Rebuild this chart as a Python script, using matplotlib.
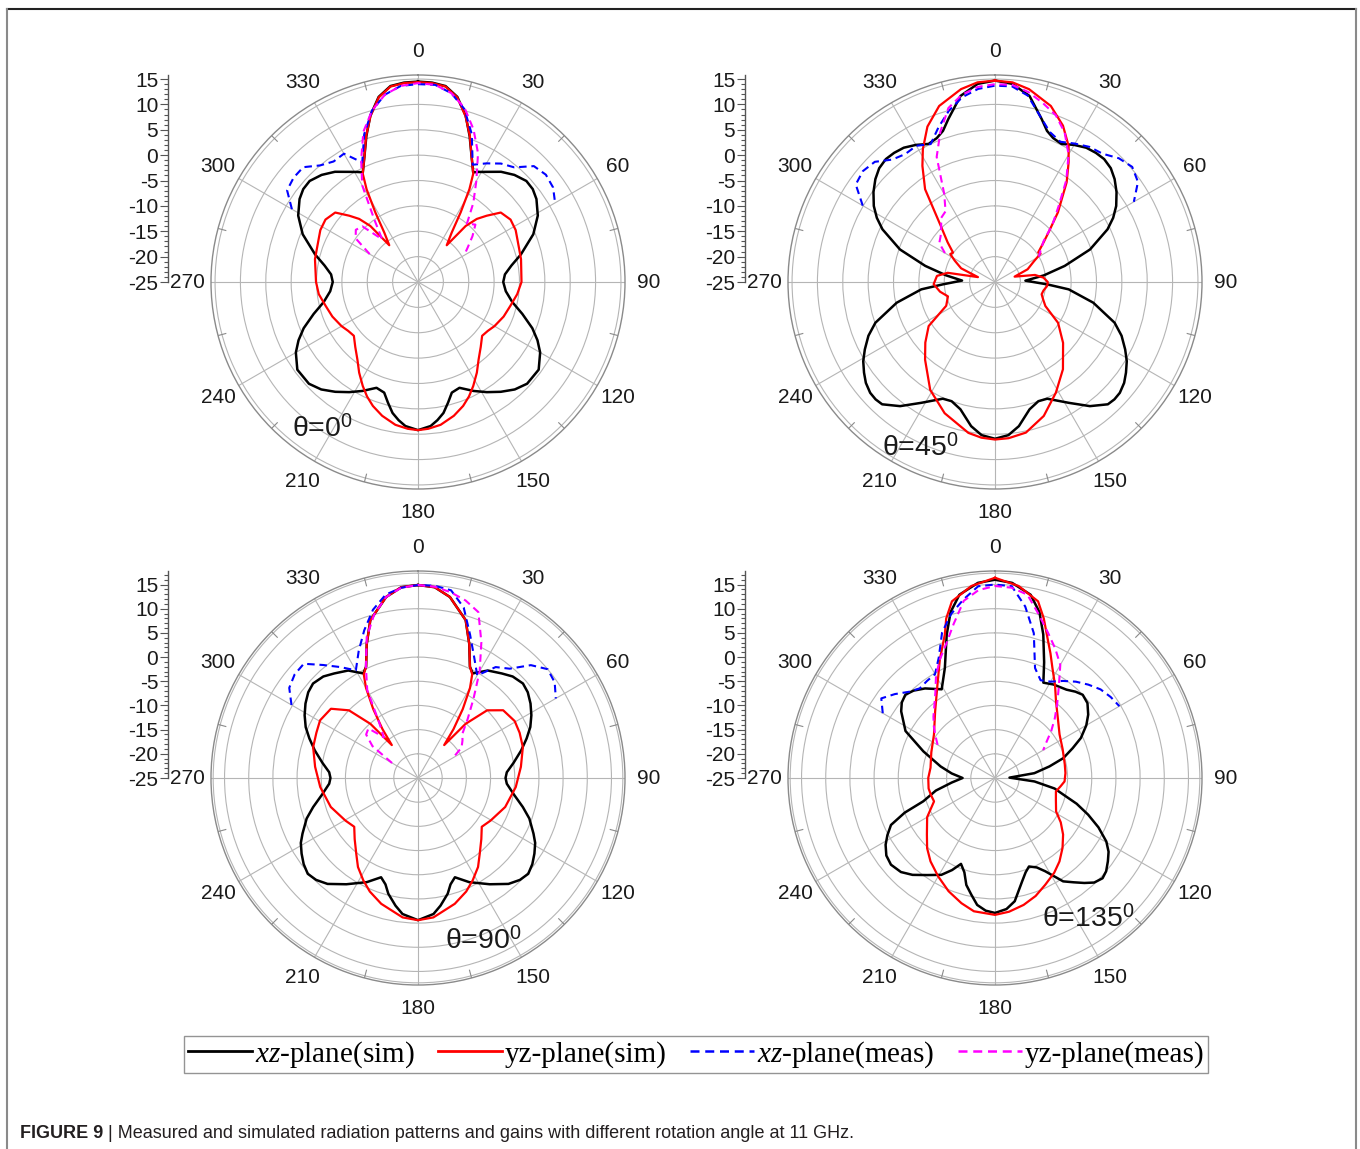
# -*- coding: utf-8 -*-
"""Radiation patterns at 11 GHz, four rotation angles (polar, Origin-like style)."""
import numpy as np
import matplotlib
matplotlib.use("Agg")
import matplotlib.pyplot as plt
from matplotlib.lines import Line2D
from matplotlib.ticker import MultipleLocator

plt.rcParams.update({
    "font.family": "Liberation Sans",
    "mathtext.fontset": "custom",
    "mathtext.rm": "Liberation Serif",
    "mathtext.it": "Liberation Serif:italic",
    "axes.linewidth": 1.0,
    "axes.unicode_minus": False,
})

# ------------------------------------------------------------------ data
# simulated curves: angle (deg, clockwise from top) / gain (dB)
tl_xz_ang = [0, 4, 8, 12, 16, 19.5, 23, 26.7, 29, 32, 37, 42, 47, 51, 55, 61, 67.5, 75, 80, 85, 90,
             96, 102, 107, 112, 116, 120, 126, 133, 138, 143, 148, 153, 158.6, 163, 166, 169, 172, 175,
             180, 185, 188, 191, 194, 197, 201.4, 207, 212, 217, 222, 227, 234, 240, 244, 248, 253, 258,
             264, 270, 275, 280, 285, 292.5, 299, 305, 309, 313, 318, 323, 328, 331, 333.3, 337, 340.5,
             344, 348, 352, 356, 360]
tl_xz_db = [14.5, 14.4, 14.0, 12.3, 9.1, 5.5, 2.0, -0.8, -0.2, 0.6, 2.2, 3.4, 4.2, 4.1, 3.5, 2.0, -0.4,
            -4.0, -6.3, -7.8, -8.2, -7.6, -6.0, -3.5, -0.7, 1.2, 2.8, 4.4, 4.4, 3.5, 2.1, 0.6, -0.9, -2.6,
            -2.2, -0.5, 1.3, 2.5, 3.5, 4.2, 3.5, 2.5, 1.3, -0.5, -2.2, -2.6, -0.9, 0.6, 2.1, 3.5, 4.4, 4.4,
            2.8, 1.2, -0.7, -3.5, -6.0, -7.6, -8.2, -7.8, -6.3, -4.0, -0.4, 2.0, 3.5, 4.1, 4.2, 3.4, 2.2,
            0.6, -0.2, -0.8, 2.0, 5.5, 9.1, 12.3, 14.0, 14.4, 14.5]

tl_yz_ang = [0, 4, 8, 12, 16, 19.5, 23, 27, 29, 31.5, 34.3, 38, 40.4, 43, 46, 50, 56, 62, 67, 77.5, 90,
             97, 104.5, 112, 120, 125, 130, 136, 142, 147, 152, 156, 160, 165, 171, 176, 180,
             184, 189, 195, 200, 204, 208, 213, 218, 224, 230, 235, 240, 248, 255.5, 263, 270, 282.5,
             293, 298, 304, 310, 314, 317, 319.6, 322, 325.7, 328.5, 331, 333, 337, 340.5, 344, 348,
             352, 356, 360]
tl_yz_db = [14.4, 14.3, 13.9, 12.2, 9.0, 5.6, 2.0, -1.0, -4.1, -8.9, -13.2, -15.8, -10.5, -8.0, -6.2,
            -3.7, -3.0, -3.2, -3.7, -4.2, -4.6, -5.3, -6.2, -6.8, -7.6, -8.2, -8.5, -7.2, -5.6, -3.7, -1.8,
            -0.3, 1.0, 2.3, 3.5, 4.0, 4.2, 4.0, 3.5, 2.3, 1.0, -0.3, -1.8, -3.7, -5.6, -7.2, -8.5, -8.2,
            -7.6, -6.8, -6.2, -5.3, -4.9, -4.2, -3.7, -3.2, -3.0, -3.7, -6.2, -8.0, -10.5, -15.8, -13.2,
            -8.9, -4.1, -1.0, 2.0, 5.6, 9.0, 12.2, 13.9, 14.3, 14.4]

tr_xz_ang = [0, 5, 10.5, 16, 19, 22, 25.7, 30, 34.2, 38, 41.6, 45.5, 49.3, 53.5, 57.9, 61.5, 64.9, 71.1,
             77, 82.3, 87.5, 92.6, 95.7, 101.9, 108.8, 113, 117.4, 121, 124.7, 128, 131.6, 134.5, 137.3,
             142.6, 148.6, 155.9, 160, 164.8, 170.6, 175, 180,
             185, 189.4, 195.2, 200, 204.1, 211.4, 217.4, 222.7, 225.5, 228.4, 232, 235.3, 239, 242.6, 247,
             251.2, 258.1, 264.3, 267.4, 272.5, 277.7, 283, 288.9, 295.1, 298.5, 302.1, 306.5, 310.7,
             314.5, 318.4, 322, 325.8, 330, 334.3, 338, 341, 344, 349.5, 355, 360]
tr_xz_db = [14.7, 14.2, 12.3, 8.4, 6.5, 5.6, 5.2, 6.2, 7.0, 7.3, 7.4, 7.0, 6.1, 4.8, 3.2, 1.5, -0.5,
            -5.2, -10.9, -15.3, -19.0, -14.7, -10.4, -5.2, -0.1, 2.1, 3.9, 5.3, 6.4, 7.3, 7.9, 8.0, 7.8,
            5.8, 2.9, 0.2, 0.0, 1.0, 3.8, 5.3, 5.9,
            5.3, 3.8, 1.0, 0.0, 0.2, 2.9, 5.8, 7.8, 8.0, 7.9, 7.3, 6.4, 5.3, 3.9, 2.1,
            -0.1, -5.2, -10.4, -14.7, -18.5, -15.3, -10.9, -5.2, -0.5, 1.5, 3.2, 4.8, 6.1,
            7.0, 7.4, 7.3, 7.0, 6.2, 5.2, 5.6, 6.5, 8.4, 12.3, 14.2, 14.7]

tr_yz_ang = [0, 5, 10, 17.6, 23.5, 28.4, 31.6, 35.7, 42.1, 47, 50.9, 55.7, 58, 62, 68.7, 74.7, 80, 84.9,
             90, 94.4, 100, 104.7, 110, 115.5, 122.9, 131.8, 142.1, 151.2, 160, 168.4, 175, 180,
             185, 190, 201, 211, 222, 229, 236.4, 244, 253, 260, 268, 276, 281, 286, 292, 298, 302, 305,
             310, 316, 323, 328, 331.5, 336.5, 342.4, 350, 355, 360]
tr_yz_db = [14.7, 14.5, 13.6, 11.4, 8.6, 5.5, 2.7, -0.8, -6.5, -10.5, -12.7, -14.7, -14.4, -16.3, -18.1,
            -21.0, -17.0, -15.4, -14.6, -14.7, -15.3, -15.5, -14.9, -14.0, -10.2, -7.0, -3.2, -0.1, 3.1,
            5.3, 5.9, 6.05, 5.8, 5.2, 2.7, -0.2, -4.4, -6.8, -9.3, -14.3, -15.3, -14.0, -12.9, -13.5,
            -15.5, -21.5, -17.8, -16.0, -14.6, -14.9, -12.8, -9.6, -2.1, 2.0, 4.8, 8.4, 11.4, 13.6, 14.5,
            14.7]

bl_xz_ang = [0, 5, 10, 16.8, 20.9, 25, 27.6, 33, 38.7, 43, 48, 52, 56.5, 61, 65.6, 70, 75, 81, 86.3, 90,
             93.7, 100, 105.5, 110, 115.7, 119, 123, 127, 131, 135, 139.5, 146, 153.8, 159.6, 163, 165.6,
             170, 173.5, 180,
             186.5, 190, 194.4, 197, 200.4, 206.2, 214, 220.5, 225, 229, 233, 237, 241, 244.3, 250, 254.5,
             260, 266.3, 270, 273.7, 279, 285, 290, 294.4, 299, 303.5, 308, 312, 317, 321.3, 327, 332.4,
             335, 339.1, 343.2, 350, 355, 360]
bl_xz_db = [14.9, 14.6, 13.0, 9.1, 4.7, 0.4, -0.6, 1.5, 2.7, 3.7, 4.2, 3.8, 2.9, 1.8, 0.5, -1.1, -2.9,
            -5.0, -6.6, -6.9, -6.6, -4.8, -2.5, -0.5, 1.5, 2.7, 3.7, 4.6, 5.2, 4.8, 3.8, 1.5, -1.0, -3.1,
            -2.0, -0.3, 1.8, 3.3, 4.4,
            3.3, 1.8, -0.3, -2.0, -3.1, -1.0, 1.5, 3.8, 4.8, 5.2, 4.6, 3.7, 2.7, 1.5, -0.5, -2.5,
            -4.8, -6.6, -6.9, -6.6, -5.0, -2.9, -1.1, 0.5, 1.8, 2.9, 3.8, 4.2, 3.7, 2.7, 1.5, -0.6,
            0.4, 4.7, 9.1, 13.0, 14.6, 14.9]

bl_yz_ang = [0, 5, 10, 16.8, 20.9, 25, 27.6, 30, 33, 36, 38.5, 41.3, 45.6, 51.5, 59.5, 66, 73.6, 83.8,
             95.3, 108.4, 120.4, 127.4, 134, 140.8, 146, 151.9, 157, 163.7, 173.7, 180,
             186.3, 196.3, 203, 208.1, 214, 219.2, 226, 232.6, 239.6, 251.6, 264.7, 276.2, 286.4, 294,
             300.5, 308.5, 314.4, 318.7, 321.5, 324, 327, 330, 332.4, 335, 339.1, 343.2, 350, 355, 360]
bl_yz_db = [14.9, 14.6, 13.0, 9.1, 4.7, 0.4, -0.8, -3.5, -8.0, -12.5, -16.3, -10.1, -5.0, -2.5, -1.8,
            -2.0, -2.4, -3.6, -4.7, -6.0, -7.6, -8.4, -6.8, -4.8, -2.8, -1.0, 0.5, 2.1, 4.0, 4.4,
            4.0, 2.1, 0.5, -1.0, -2.8, -4.8, -6.8, -8.4, -7.6, -6.0, -4.7, -3.6, -2.4, -2.0, -1.5, -2.0,
            -5.0, -10.1, -16.3, -12.5, -8.0, -3.5, -0.8, 0.4, 4.7, 9.1, 13.0, 14.6, 14.9]

br_xz_ang = [0, 5, 11, 15, 18.6, 23, 26.9, 32, 39, 43, 46.5, 51, 55.8, 60, 65, 69, 73.8, 78, 83, 88.5,
             95, 100, 103.6, 107.5, 111.5, 115.5, 119.7, 123, 126.4, 130, 133, 136.5, 139.6, 143,
             146.6, 151.7, 155, 159, 162, 165.3, 170.9, 175, 180,
             184, 188, 191.5, 195, 198, 201.6, 205, 209, 215, 220.4, 225, 230.2, 234.5, 238.6, 242,
             245.7, 249, 252, 258, 264, 270, 276, 282, 290.4, 297.7, 305.4, 309, 312.9, 317, 322, 329,
             335.5, 341.4, 345, 349, 355, 360]
br_xz_db = [16.0, 15.5, 13.6, 10.5, 6.3, 1.0, -2.9, -2.2, -1.5, -0.6, 0.0, -0.4, -1.7, -3.2, -5.4, -7.8,
            -10.3, -13.5, -16.8, -22.0, -16.8, -12.5, -10.5, -7.3, -4.3, -1.3, 1.5, 3.0, 4.0, 5.0, 5.4,
            4.8, 3.5, 2.0, 0.6, -3.1, -4.6, -5.4, -4.5, -2.9, 0.8, 2.2, 2.9,
            2.5, 1.5, -0.4, -2.1, -4.5, -5.9, -4.0, -2.1, -0.5, 1.3, 2.5, 3.0, 2.6, 1.5, 0.2,
            -1.4, -5.0, -9.4, -12.5, -16.0, -18.3, -16.0, -13.5, -9.2, -4.1, -1.2, -0.2, 0.3, -0.3,
            -1.5, -3.6, 0.0, 6.3, 10.5, 13.6, 15.5, 16.0]

br_yz_ang = [0, 7, 13.7, 17, 19.9, 24, 27.5, 33, 38.4, 47, 56, 67, 79, 86, 92.8, 97, 102.5, 110, 118.7,
             124, 129.7, 136, 142.3, 148, 154.8, 161, 167.3, 174, 180,
             189, 195, 202.3, 210, 217.7, 224, 230.3, 240, 249, 255, 261, 270, 279, 292, 305.5, 318,
             328.4, 335, 340.7, 343, 346.3, 353, 360]
br_yz_db = [16.4, 15.0, 12.6, 9.5, 6.5, 3.2, 0.7, -2.2, -4.7, -7.2, -8.9, -9.8, -10.3, -10.4, -10.6,
            -11.3, -12.1, -11.6, -10.6, -8.6, -6.7, -4.9, -3.2, -1.9, -0.6, 0.8, 1.9, 2.8, 3.3,
            2.9, 1.8, 0.3, -1.5, -3.2, -4.8, -6.7, -8.8, -11.5, -11.3, -11.1, -11.2, -11.5, -10.8, -9.5,
            -6.5, -2.3, 2.0, 6.4, 9.5, 12.6, 15.0, 16.4]

# measured curves: -60 .. 60 deg
meas_ang = [-60, -55, -50, -45, -40, -35, -30, -25, -20, -15, -10, -5, 0,
            5, 10, 15, 20, 25, 30, 35, 40, 45, 50, 55, 60]
tl_xz_meas = [3.7, 6.5, 7.0, 7.0, 5.0, 4.0, 4.2, 1.0, 6.0, 10.0, 12.5, 13.8, 14.0,
              14.0, 12.8, 10.3, 6.0, 0.5, 2.0, 3.5, 4.5, 7.3, 7.9, 7.5, 6.2]
tl_yz_meas = [-14.0, -10.0, -9.0, -9.5, -14.0, -10.0, -3.0, 1.5, 6.5, 10.0, 12.5, 13.8, 14.2,
              14.0, 12.8, 10.5, 7.0, 3.0, -2.0, -6.0, -10.0, -9.0, -11.0, -13.0, -14.5]
tr_xz_meas = [5.1, 8.5, 9.0, 8.5, 6.5, 5.8, 6.0, 5.0, 7.5, 10.0, 12.0, 13.2, 13.7,
              13.7, 12.3, 9.0, 6.5, 5.5, 6.5, 7.5, 8.0, 9.5, 10.3, 9.4, 6.6]
tr_yz_meas = [-13.6, -11.6, -11.0, -10.0, -8.5, -8.0, -5.0, 2.2, 6.5, 10.5, 12.5, 13.6, 14.0,
              14.0, 13.0, 11.5, 10.0, 7.5, 4.0, -0.5, -5.5, -9.0, -12.5, -14.0, -15.0]
bl_xz_meas = [5.2, 7.5, 8.3, 8.4, 5.5, 3.0, 0.7, 4.0, 7.5, 11.0, 13.5, 14.5, 14.9,
              14.9, 14.4, 11.5, 6.5, 2.5, -0.5, 3.0, 4.5, 8.0, 10.0, 9.5, 7.9]
bl_yz_meas = [-18.8, -13.5, -11.0, -10.5, -14.0, -11.0, -4.0, 0.5, 6.0, 10.0, 13.0, 14.5, 14.9,
              14.7, 14.0, 13.0, 11.5, 6.0, 0.5, -5.0, -9.0, -12.0, -13.0, -14.0, -16.6]
br_xz_meas = [1.8, 3.7, 2.0, 0.2, -0.8, -0.5, -0.2, 2.5, 7.0, 10.1, 12.5, 14.8, 15.0,
              14.8, 11.0, 6.0, -0.8, -2.7, -2.0, -0.5, 1.0, 2.3, 3.5, 4.2, 4.7]
br_yz_meas = [-11.3, -10.0, -8.5, -7.0, -5.5, -3.5, -0.6, 2.0, 4.5, 8.0, 12.2, 14.0, 14.7,
              14.5, 13.5, 10.0, 7.0, 4.5, 2.0, -2.0, -5.0, -7.5, -9.8, -12.0, -13.5]

rings = [-20, -15, -10, -5, 0, 5, 10, 15]
angle_labels = list(range(0, 360, 30))
rot_labels = ["0", "45", "90", "135"]
legend_labels = [r"$\mathit{xz}$-plane(sim)", "yz-plane(sim)",
                 r"$\mathit{xz}$-plane(meas)", "yz-plane(meas)"]

# ------------------------------------------------------------------ layout
W, H = 1360, 1149
R = 207
GRID = "#b5b5b5"
FRAME = "#8a8a8a"
DASH = (0, (3.6, 2.3))

panels = [
    dict(cx=418, cy=282, rmax=15.8, axx=168, sim=(tl_xz_ang, tl_xz_db, tl_yz_ang, tl_yz_db),
         meas=(tl_xz_meas, tl_yz_meas), lab=(322, 428)),
    dict(cx=995, cy=282, rmax=15.8, axx=745, sim=(tr_xz_ang, tr_xz_db, tr_yz_ang, tr_yz_db),
         meas=(tr_xz_meas, tr_yz_meas), lab=(920, 447)),
    dict(cx=418, cy=778, rmax=17.8, axx=168, sim=(bl_xz_ang, bl_xz_db, bl_yz_ang, bl_yz_db),
         meas=(bl_xz_meas, bl_yz_meas), lab=(483, 940)),
    dict(cx=995, cy=778, rmax=17.8, axx=745, sim=(br_xz_ang, br_xz_db, br_yz_ang, br_yz_db),
         meas=(br_xz_meas, br_yz_meas), lab=(1088, 918)),
]

fig = plt.figure(figsize=(W / 100, H / 100), dpi=100)
fig.patch.set_facecolor("white")

for p, rl in zip(panels, rot_labels):
    cx, cy, rmax = p["cx"], p["cy"], p["rmax"]
    ax = fig.add_axes([(cx - R) / W, (H - cy - R) / H, 2 * R / W, 2 * R / H], projection="polar")
    ax.set_theta_zero_location("N")
    ax.set_theta_direction(-1)
    ax.set_ylim(-25, rmax)
    rr = list(rings)
    if rmax > 17:
        rr.append(rmax - 0.45)  # double outer frame
    ax.set_yticks(rr)
    ax.set_yticklabels([])
    ax.set_xticks(np.deg2rad(angle_labels))
    ax.set_xticklabels([])
    ax.tick_params(axis="x", length=0)
    ax.grid(True, color=GRID, lw=0.8)
    ax.spines["polar"].set_color(FRAME)
    ax.spines["polar"].set_linewidth(1.0)
    # short marks on the frame every 15 deg
    dr = 8 / (R / (rmax + 25))
    for a in range(15, 360, 30):
        ax.plot([np.deg2rad(a)] * 2, [rmax - dr, rmax], color=FRAME, lw=0.8)
    for a in angle_labels:
        t = np.deg2rad(a)
        ax.text(0.5 + 0.557 * np.sin(t), 0.5 + 0.557 * np.cos(t), str(a), transform=ax.transAxes,
                ha="center", va="center", fontsize=15, color="#1a1a1a")

    xa, xd, ya, yd = p["sim"]
    ax.plot(np.deg2rad(xa), xd, color="black", lw=1.8, zorder=3)
    ax.plot(np.deg2rad(ya), yd, color="#ff0000", lw=1.6, zorder=4)
    xm, ym = p["meas"]
    ax.plot(np.deg2rad(meas_ang), xm, color="#0000ff", lw=1.5, ls=DASH, zorder=5)
    ax.plot(np.deg2rad(meas_ang), ym, color="#ff00ff", lw=1.5, ls=DASH, zorder=5)

    # radial scale drawn as a separate vertical axis on the left
    rax = fig.add_axes([p["axx"] / W, (H - cy) / H, 0.0001, R / H])
    rax.set_ylim(-25, rmax)
    rax.patch.set_visible(False)
    for s in ["top", "right", "bottom"]:
        rax.spines[s].set_visible(False)
    rax.spines["left"].set_color("#555555")
    rax.set_xticks([])
    rax.yaxis.set_major_locator(MultipleLocator(5))
    rax.yaxis.set_minor_locator(MultipleLocator(1))
    rax.tick_params(axis="y", which="major", length=6, width=0.8, labelsize=15, pad=1,
                    color="#555555", labelcolor="#1a1a1a")
    rax.tick_params(axis="y", which="minor", length=3, width=0.8, color="#555555")

    lx, ly = p["lab"]
    fig.text(lx / W, 1 - ly / H, "θ=" + rl + r"$^{\mathregular{0}}$", fontsize=20.5,
             ha="center", va="center", color="#1a1a1a")

# legend
handles = [Line2D([], [], color="black", lw=2.0),
           Line2D([], [], color="#ff0000", lw=2.0),
           Line2D([], [], color="#0000ff", lw=1.8, ls=DASH),
           Line2D([], [], color="#ff00ff", lw=1.8, ls=DASH)]
leg = fig.legend(handles, legend_labels, loc="center", bbox_to_anchor=(696 / W, 1 - 1054.5 / H),
                 ncol=4, frameon=True, fancybox=False, borderpad=0.12, handlelength=2.2,
                 handletextpad=0.1, columnspacing=0.8, prop={"family": "Liberation Serif", "size": 21})
leg.get_frame().set_edgecolor("#7a7a7a")
leg.get_frame().set_linewidth(1.0)

# page frame
fig.add_artist(Line2D([7 / W, 1356 / W], [1 - 9 / H, 1 - 9 / H], color="#222222", lw=1.5,
                      transform=fig.transFigure))
for xf in (7, 1356):
    fig.add_artist(Line2D([xf / W, xf / W], [0, 1 - 9 / H], color=FRAME, lw=1.5,
                          transform=fig.transFigure))

# caption
t1 = fig.text(20 / W, 1 - 1133 / H, "FIGURE 9", fontsize=13, fontweight="bold",
              ha="left", va="center", color="#231f20")
fig.canvas.draw()
bb = t1.get_window_extent(fig.canvas.get_renderer())
fig.text(bb.x1 / W, 1 - 1133 / H,
         " | Measured and simulated radiation patterns and gains with different rotation angle at 11 GHz.",
         fontsize=13, ha="left", va="center", color="#231f20")

fig.savefig("out.png", dpi=100, facecolor="white")
